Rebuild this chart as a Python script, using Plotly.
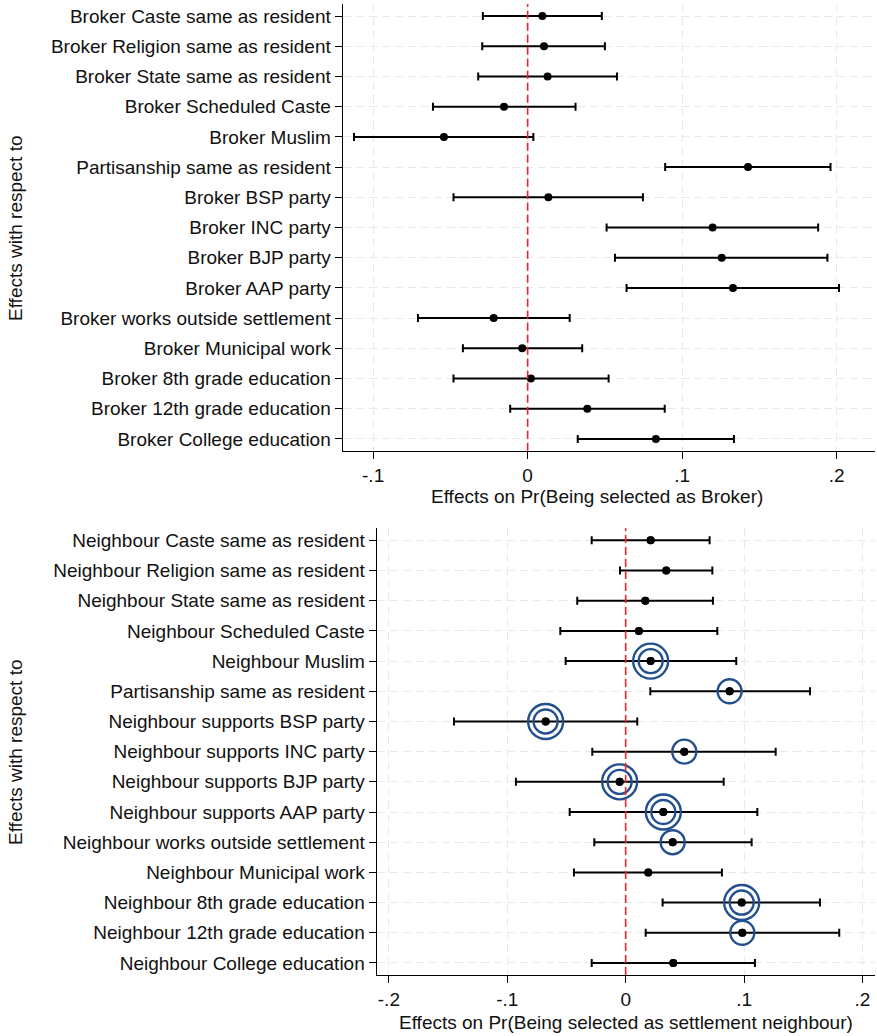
import plotly.graph_objects as go

# ---------------- data ----------------
broker_labels = [
    "Broker Caste same as resident",
    "Broker Religion same as resident",
    "Broker State same as resident",
    "Broker Scheduled Caste",
    "Broker Muslim",
    "Partisanship same as resident",
    "Broker BSP party",
    "Broker INC party",
    "Broker BJP party",
    "Broker AAP party",
    "Broker works outside settlement",
    "Broker Municipal work",
    "Broker 8th grade education",
    "Broker 12th grade education",
    "Broker College education",
]
broker_est = [0.0095, 0.0106, 0.0129, -0.0153, -0.0542, 0.1426, 0.0134, 0.1197,
              0.1256, 0.1329, -0.0220, -0.0035, 0.0021, 0.0386, 0.0830]
broker_lo = [-0.0290, -0.0294, -0.0320, -0.0613, -0.1124, 0.0890, -0.0480, 0.0511,
             0.0565, 0.0640, -0.0710, -0.0419, -0.0480, -0.0113, 0.0324]
broker_hi = [0.0480, 0.0500, 0.0578, 0.0310, 0.0037, 0.1960, 0.0746, 0.1880,
             0.1940, 0.2015, 0.0272, 0.0353, 0.0524, 0.0887, 0.1335]

neigh_labels = [
    "Neighbour Caste same as resident",
    "Neighbour Religion same as resident",
    "Neighbour State same as resident",
    "Neighbour Scheduled Caste",
    "Neighbour Muslim",
    "Partisanship same as resident",
    "Neighbour supports BSP party",
    "Neighbour supports INC party",
    "Neighbour supports BJP party",
    "Neighbour supports AAP party",
    "Neighbour works outside settlement",
    "Neighbour Municipal work",
    "Neighbour 8th grade education",
    "Neighbour 12th grade education",
    "Neighbour College education",
]
neigh_est = [0.0211, 0.0343, 0.0166, 0.0112, 0.0211, 0.0878, -0.0676, 0.0495,
             -0.0051, 0.0318, 0.0397, 0.0191, 0.0980, 0.0985, 0.0402]
neigh_lo = [-0.0287, -0.0048, -0.0409, -0.0552, -0.0507, 0.0208, -0.1450, -0.0282,
            -0.0927, -0.0473, -0.0265, -0.0437, 0.0312, 0.0169, -0.0287]
neigh_hi = [0.0709, 0.0732, 0.0737, 0.0774, 0.0934, 0.1557, 0.0098, 0.1267,
            0.0828, 0.1112, 0.1064, 0.0813, 0.1641, 0.1804, 0.1092]
# number of blue rings drawn around each neighbour estimate
neigh_rings = [0, 0, 0, 0, 2, 1, 2, 1, 2, 2, 1, 0, 2, 1, 0]

top_ticks = [-0.1, 0, 0.1, 0.2]
top_ticktext = ["-.1", "0", ".1", ".2"]
bot_ticks = [-0.2, -0.1, 0, 0.1, 0.2]
bot_ticktext = ["-.2", "-.1", "0", ".1", ".2"]

x_title_top = "Effects on Pr(Being selected as Broker)"
x_title_bot = "Effects on Pr(Being selected as settlement neighbour)"
y_title = "Effects with respect to"

# ---------------- figure ----------------
W, H = 877, 1036
FONT = "Liberation Sans, Arial, Helvetica, sans-serif"
FS = 19
ring_color = "#22508e"

ypos_b = list(range(1, len(broker_labels) + 1))
ypos_n = list(range(1, len(neigh_labels) + 1))

fig = go.Figure()

fig.add_trace(go.Scatter(
    x=broker_est, y=ypos_b, mode="markers", xaxis="x", yaxis="y",
    marker=dict(color="black", size=8),
    error_x=dict(type="data", symmetric=False,
                 array=[h - e for h, e in zip(broker_hi, broker_est)],
                 arrayminus=[e - l for e, l in zip(broker_est, broker_lo)],
                 color="black", thickness=2, width=4),
    hoverinfo="skip",
))

fig.add_trace(go.Scatter(
    x=neigh_est, y=ypos_n, mode="markers", xaxis="x2", yaxis="y2",
    marker=dict(color="black", size=8),
    error_x=dict(type="data", symmetric=False,
                 array=[h - e for h, e in zip(neigh_hi, neigh_est)],
                 arrayminus=[e - l for e, l in zip(neigh_est, neigh_lo)],
                 color="black", thickness=2, width=4),
    hoverinfo="skip",
))

# rings
r1x = [e for e, r in zip(neigh_est, neigh_rings) if r >= 1]
r1y = [y for y, r in zip(ypos_n, neigh_rings) if r >= 1]
r2x = [e for e, r in zip(neigh_est, neigh_rings) if r >= 2]
r2y = [y for y, r in zip(ypos_n, neigh_rings) if r >= 2]
fig.add_trace(go.Scatter(
    x=r1x, y=r1y, mode="markers", xaxis="x2", yaxis="y2",
    marker=dict(symbol="circle-open", size=24, color=ring_color,
                line=dict(color=ring_color, width=2.4)),
    hoverinfo="skip",
))
fig.add_trace(go.Scatter(
    x=r2x, y=r2y, mode="markers", xaxis="x2", yaxis="y2",
    marker=dict(symbol="circle-open", size=35, color=ring_color,
                line=dict(color=ring_color, width=2.4)),
    hoverinfo="skip",
))
# redraw points on top
fig.add_trace(go.Scatter(
    x=neigh_est, y=ypos_n, mode="markers", xaxis="x2", yaxis="y2",
    marker=dict(color="black", size=8), hoverinfo="skip",
))

def px_x(p):
    return p / W

def px_y(p):
    return (H - p) / H

axis_common = dict(
    showline=True, linecolor="black", linewidth=1.3,
    ticks="outside", ticklen=7, tickwidth=1.3, tickcolor="black",
    showgrid=True, gridcolor="#e9e9e9", gridwidth=1.3, griddash="8px,5px",
    zeroline=False, tickfont=dict(family=FONT, size=FS, color="#111111"),
)

fig.update_layout(
    width=W, height=H,
    margin=dict(l=0, r=0, t=0, b=0),
    paper_bgcolor="white", plot_bgcolor="white",
    showlegend=False,
    font=dict(family=FONT, size=FS, color="#111111"),
    xaxis=dict(domain=[px_x(342.7), px_x(875)], anchor="y",
               range=[-0.1197, 0.2248], tickvals=top_ticks, ticktext=top_ticktext,
               **axis_common),
    yaxis=dict(domain=[px_y(450.7), px_y(4)], anchor="x",
               range=[15.39, 0.6], tickvals=ypos_b, ticktext=broker_labels,
               **axis_common),
    xaxis2=dict(domain=[px_x(376.7), px_x(875)], anchor="y2",
                range=[-0.2103, 0.2106], tickvals=bot_ticks, ticktext=bot_ticktext,
                **axis_common),
    yaxis2=dict(domain=[px_y(975), px_y(528.3)], anchor="x2",
                range=[15.4, 0.6], tickvals=ypos_n, ticktext=neigh_labels,
                **axis_common),
)

for xr, yr in (("x", "y domain"), ("x2", "y2 domain")):
    fig.add_shape(type="line", xref=xr, yref=yr, x0=0, x1=0, y0=0, y1=1,
                  line=dict(color="#ee2228", width=1.6, dash="8px,4px"), layer="above")

fig.add_annotation(text=x_title_top, xref="paper", yref="paper",
                   x=px_x(596.7), y=px_y(496.7), showarrow=False,
                   xanchor="center", yanchor="middle", font=dict(size=FS))
fig.add_annotation(text=x_title_bot, xref="paper", yref="paper",
                   x=px_x(625.5), y=px_y(1022), showarrow=False,
                   xanchor="center", yanchor="middle", font=dict(size=FS))
fig.add_annotation(text=y_title, xref="paper", yref="paper",
                   x=px_x(15), y=px_y(228), showarrow=False, textangle=-90,
                   xanchor="center", yanchor="middle", font=dict(size=FS))
fig.add_annotation(text=y_title, xref="paper", yref="paper",
                   x=px_x(15), y=px_y(752), showarrow=False, textangle=-90,
                   xanchor="center", yanchor="middle", font=dict(size=FS))

fig.write_html("out.html")
